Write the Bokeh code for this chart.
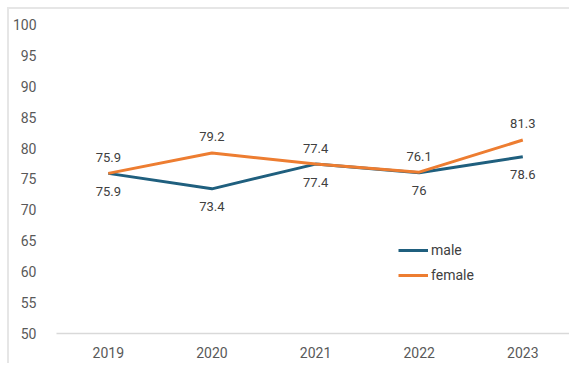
from bokeh.plotting import figure
from bokeh.models import (ColumnDataSource, Legend, LegendItem, FixedTicker,
                          LabelSet, Range1d)
from bokeh.core.properties import value
from bokeh.embed import file_html
from bokeh.resources import INLINE

years = ["2019", "2020", "2021", "2022", "2023"]
male = [75.9, 73.4, 77.4, 76, 78.6]
female = [75.9, 79.2, 77.4, 76.1, 81.3]
y_ticks = [50, 55, 60, 65, 70, 75, 80, 85, 90, 95, 100]

xs = list(range(len(years)))
male_src = ColumnDataSource(dict(x=xs, y=male, lab=[f"{v:g}" for v in male]))
female_src = ColumnDataSource(dict(x=xs, y=female, lab=[f"{v:g}" for v in female]))

p = figure(width=562, height=356, output_backend="svg", toolbar_location=None,
           x_range=Range1d(-0.5, 4.47), y_range=Range1d(50, 101.6),
           min_border_left=44, min_border_right=0, min_border_top=5,
           min_border_bottom=32, margin=(7, 0, 0, 7),
           styles={"border-left": "2px solid #e6e6e6",
                   "border-top": "2px solid #e6e6e6"})
p.outline_line_color = None
p.xgrid.grid_line_color = None
p.ygrid.grid_line_color = None

FONT = "Roboto"
TXT = "#595959"

p.xaxis.ticker = FixedTicker(ticks=xs)
p.xaxis.major_label_overrides = {i: y for i, y in enumerate(years)}
p.xaxis.axis_line_color = "#d9d9d9"
p.xaxis.axis_line_width = 1.5
p.xaxis.major_tick_line_color = None
p.xaxis.minor_tick_line_color = None
p.xaxis.major_label_text_font = FONT
p.xaxis.major_label_text_font_size = "14px"
p.xaxis.major_label_text_color = TXT
p.xaxis.major_label_standoff = 7

p.yaxis.ticker = FixedTicker(ticks=y_ticks)
p.yaxis.axis_line_color = None
p.yaxis.major_tick_line_color = None
p.yaxis.minor_tick_line_color = None
p.yaxis.major_label_text_font = FONT
p.yaxis.major_label_text_font_size = "14px"
p.yaxis.major_label_text_color = TXT
p.yaxis.major_label_standoff = 14

MALE_C = "#1f5f7e"
FEM_C = "#ed7d31"

r_m = p.line("x", "y", source=male_src, line_color=MALE_C, line_width=3)
r_f = p.line("x", "y", source=female_src, line_color=FEM_C, line_width=3)

lab_kw = dict(text_font=value(FONT), text_font_size=value("13px"),
              text_color="#404040", text_align="center",
              text_baseline="middle")
p.add_layout(LabelSet(x="x", y="y", text="lab", source=female_src,
                      y_offset=16, **lab_kw))
p.add_layout(LabelSet(x="x", y="y", text="lab", source=male_src,
                      y_offset=-18, **lab_kw))

legend = Legend(items=[LegendItem(label="male", renderers=[r_m]),
                       LegendItem(label="female", renderers=[r_f])],
                location=(342, 48), orientation="vertical",
                padding=0, margin=0, spacing=5, glyph_width=30,
                glyph_height=20, label_height=20, label_standoff=3,
                label_text_font=FONT, label_text_font_size="14px",
                label_text_color="#404040",
                border_line_color=None, background_fill_alpha=0)
p.add_layout(legend)

open("out.html", "w").write(file_html(p, INLINE))
